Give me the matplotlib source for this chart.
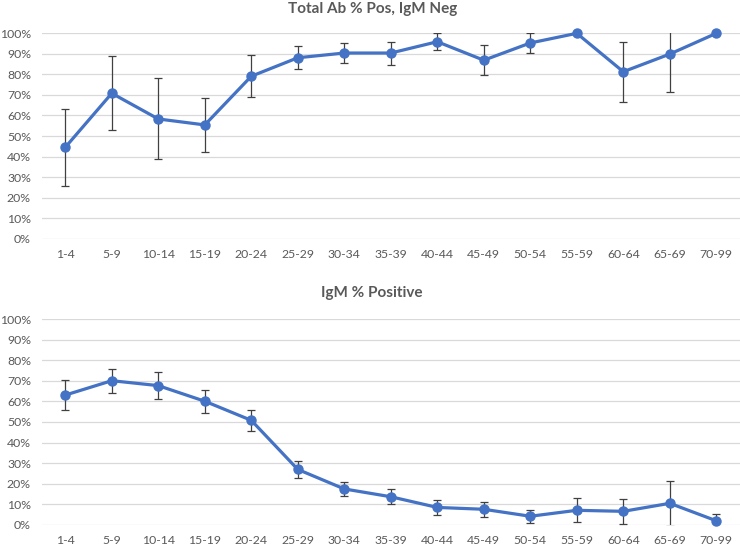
import numpy as np
import matplotlib
matplotlib.use("Agg")
import matplotlib.pyplot as plt
from matplotlib.ticker import FuncFormatter

plt.rcParams['font.family'] = ['Lato', 'DejaVu Sans']

# age groups
ages = ["1-4", "5-9", "10-14", "15-19", "20-24", "25-29", "30-34", "35-39",
        "40-44", "45-49", "50-54", "55-59", "60-64", "65-69", "70-99"]

# Total Ab % Pos, IgM Neg (percent) and error (+/-)
total_pos = [44.5, 70.8, 58.3, 55.4, 79.1, 88.1, 90.4, 90.4,
             95.9, 86.9, 95.3, 100.0, 81.3, 89.9, 100.0]
total_err = [18.7, 18.1, 19.7, 13.3, 10.1, 5.6, 5.0, 5.6,
             4.1, 7.3, 4.7, 0.0, 14.7, 18.3, 0.0]

# IgM % Positive (percent) and error (+/-)
igm_pos = [63.1, 70.1, 67.7, 60.1, 50.8, 26.9, 17.4, 13.6,
           8.4, 7.5, 4.1, 7.0, 6.5, 10.4, 1.9]
igm_err = [7.4, 5.8, 6.6, 5.5, 5.2, 4.0, 3.6, 3.7,
           3.5, 3.7, 3.2, 5.8, 6.0, 11.0, 3.5]

line_col = "#4472C4"
err_col = "#404040"
grid_col = "#D9D9D9"
text_col = "#595959"

fig = plt.figure(figsize=(7.4, 5.47), dpi=100)
ax1 = fig.add_axes([0.0568, 0.5636, 0.9426, 0.3755])
ax2 = fig.add_axes([0.0568, 0.0408, 0.9426, 0.3755])

x = np.arange(len(ages))


def draw(ax, vals, errs):
    ax.errorbar(x, vals, yerr=errs, fmt='none', ecolor=err_col, elinewidth=0.9,
                capsize=3, capthick=0.9, zorder=2)
    ax.plot(x, vals, color=line_col, lw=2.3, marker='o', ms=6.5,
            clip_on=False, zorder=3)
    ax.set_ylim(0, 100)
    ax.set_xlim(-0.5, len(ages) - 0.5)
    ax.set_yticks(np.arange(0, 101, 10))
    ax.yaxis.set_major_formatter(FuncFormatter(lambda v, p: "{:.0f}%".format(v)))
    ax.set_xticks(x)
    ax.set_xticklabels(ages)
    ax.grid(axis='y', color=grid_col, lw=0.9, zorder=0)
    ax.set_axisbelow(True)
    for s in ax.spines.values():
        s.set_visible(False)
    ax.tick_params(axis='both', length=0, labelsize=8.8, labelcolor=text_col)
    ax.tick_params(axis='x', pad=7.5)
    ax.tick_params(axis='y', pad=8)


draw(ax1, total_pos, total_err)
draw(ax2, igm_pos, igm_err)

fig.text(0.503, 1 - 8.5 / 547, "Total Ab % Pos, IgM Neg", ha='center', va='center',
         fontsize=11, fontweight='bold', color=text_col)
fig.text(0.503, 1 - 293 / 547, "IgM % Positive", ha='center', va='center',
         fontsize=11, fontweight='bold', color=text_col)

fig.savefig("out.png", dpi=100)
